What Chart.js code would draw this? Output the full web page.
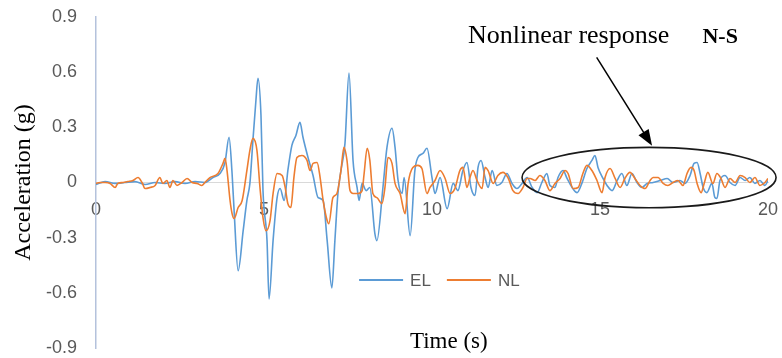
<!DOCTYPE html>
<html>
<head>
<meta charset="utf-8">
<script src="https://cdn.jsdelivr.net/npm/chart.js@4.4.1/dist/chart.umd.min.js"></script>
<style>
  html, body { margin: 0; padding: 0; background: #fff; }
  #wrap { width: 782px; height: 358px; }
</style>
</head>
<body>
<div id="wrap"><canvas id="accChart"></canvas></div>
<script>
// values (time in s, acceleration in g)
const elTime = [
  0, 0.27, 0.57, 0.86, 1.16, 1.46, 1.76, 2.05, 2.35, 2.65,
  2.95, 3.24, 3.48, 3.69, 3.84, 3.96, 4.05, 4.11, 4.23, 4.38,
  4.49, 4.58, 4.67, 4.76, 4.82, 4.91, 4.97, 5.09, 5.15, 5.27,
  5.39, 5.48, 5.60, 5.71, 5.83, 5.95, 6.07, 6.16, 6.31, 6.46,
  6.61, 6.76, 6.88, 7.02, 7.11, 7.20, 7.29, 7.41, 7.53, 7.65,
  7.77, 7.83, 7.92, 8.04, 8.15, 8.30, 8.36, 8.54, 8.66, 8.81,
  8.90, 8.99, 9.11, 9.17, 9.35, 9.49, 9.58, 9.73, 9.85, 10.00,
  10.09, 10.24, 10.45, 10.63, 10.77, 10.92, 11.04, 11.16, 11.28, 11.37,
  11.46, 11.58, 11.67, 11.79, 11.93, 12.08, 12.23, 12.38, 12.53, 12.68,
  12.83, 12.98, 13.13, 13.27, 13.42, 13.51, 13.66, 13.75, 13.90, 14.02,
  14.17, 14.32, 14.46, 14.61, 14.76, 14.85, 14.94, 15.09, 15.21, 15.36,
  15.51, 15.65, 15.80, 15.95, 16.10, 16.25, 16.40, 16.58, 16.79, 17.00,
  17.17, 17.38, 17.53, 17.68, 17.80, 17.89, 17.98, 18.07, 18.18, 18.33,
  18.42, 18.48, 18.57, 18.72, 18.87, 19.02, 19.17, 19.32, 19.46, 19.61,
  19.76, 19.91, 20.00
];
const elAccel = [
  -0.011, 0.005, -0.005, 0, 0.005, -0.011, 0, -0.005, 0.005, -0.005,
  0.005, 0, 0.027, 0.049, 0.109, 0.246, 0.049, -0.153, -0.480, -0.262,
  -0.098, -0.005, 0.229, 0.447, 0.567, 0.366, -0.044, -0.316, -0.633, -0.316,
  -0.082, -0.033, -0.098, 0.065, 0.202, 0.256, 0.327, 0.246, 0.136, 0.038,
  -0.082, -0.098, -0.316, -0.573, -0.316, -0.060, 0.065, 0.213, 0.595, 0.120,
  -0.027, -0.098, -0.005, -0.044, -0.027, -0.278, -0.316, -0.027, 0.191, 0.295,
  0.191, 0.011, -0.060, 0.027, -0.289, 0.065, 0.136, 0.158, 0.186, 0.027,
  -0.060, 0.027, -0.142, -0.005, -0.044, 0.065, 0.109, -0.027, -0.071, 0.082,
  0.120, 0.027, -0.027, 0.065, -0.016, 0, 0.049, -0.005, -0.033, -0.005,
  0.027, -0.027, -0.055, 0, 0.049, -0.016, -0.027, 0.027, 0.065, 0.022,
  -0.027, -0.055, -0.005, 0.076, 0.120, 0.147, 0.082, 0.022, -0.016, -0.044,
  0.011, 0.049, -0.016, 0.049, 0, -0.027, -0.005, 0, 0.011, 0.022,
  0, 0.011, -0.005, 0.038, 0.104, 0.109, 0.049, -0.027, -0.055, -0.005,
  -0.082, -0.087, 0.011, 0.038, 0, -0.016, 0.027, 0.011, 0.027, -0.005,
  0.011, -0.016, 0.011
];
const nlTime = [
  0, 0.12, 0.27, 0.42, 0.57, 0.65, 0.80, 0.95, 1.10, 1.25,
  1.37, 1.46, 1.61, 1.76, 1.90, 1.99, 2.11, 2.20, 2.29, 2.41,
  2.56, 2.71, 2.86, 3.01, 3.15, 3.24, 3.39, 3.63, 3.78, 3.84,
  3.90, 3.99, 4.05, 4.11, 4.23, 4.35, 4.49, 4.58, 4.67, 4.79,
  4.88, 4.97, 5.06, 5.18, 5.27, 5.39, 5.54, 5.63, 5.71, 5.80,
  5.89, 5.98, 6.13, 6.28, 6.37, 6.46, 6.58, 6.67, 6.76, 6.88,
  6.93, 7.05, 7.17, 7.29, 7.38, 7.47, 7.56, 7.65, 7.80, 7.92,
  7.98, 8.07, 8.15, 8.24, 8.36, 8.51, 8.60, 8.69, 8.81, 8.90,
  9.05, 9.20, 9.29, 9.43, 9.58, 9.70, 9.85, 9.94, 10.09, 10.24,
  10.39, 10.54, 10.68, 10.83, 10.92, 11.04, 11.13, 11.22, 11.34, 11.49,
  11.58, 11.67, 11.82, 11.96, 12.11, 12.26, 12.41, 12.56, 12.71, 12.83,
  12.92, 13.07, 13.21, 13.36, 13.51, 13.66, 13.81, 13.96, 14.05, 14.20,
  14.35, 14.49, 14.61, 14.76, 14.91, 15.06, 15.15, 15.30, 15.45, 15.60,
  15.74, 15.89, 16.04, 16.19, 16.34, 16.49, 16.58, 16.73, 16.88, 17.02,
  17.17, 17.32, 17.47, 17.59, 17.71, 17.80, 17.89, 18.01, 18.10, 18.21,
  18.36, 18.48, 18.60, 18.72, 18.87, 19.02, 19.17, 19.32, 19.46, 19.61,
  19.76, 19.91, 20.00
];
const nlAccel = [
  -0.005, 0, 0, -0.005, -0.027, -0.005, 0, 0.005, 0.011, 0.027,
  0, -0.033, -0.027, -0.016, 0.027, -0.005, 0.011, -0.027, 0.011, -0.016,
  0, 0.022, 0, -0.005, -0.016, 0, 0.027, 0.049, 0.104, 0.131,
  0.065, -0.098, -0.169, -0.196, -0.136, -0.098, 0.065, 0.175, 0.240, 0.175,
  -0.027, -0.191, -0.262, -0.207, -0.060, 0.049, 0.038, -0.027, -0.115, -0.136,
  0.027, 0.136, 0.147, 0.120, 0.065, 0.104, 0.109, 0.027, -0.098, -0.207,
  -0.224, -0.082, -0.060, 0.065, 0.191, 0.120, -0.044, -0.060, -0.060, -0.044,
  0.049, 0.186, 0.120, -0.060, -0.082, -0.115, -0.027, 0.136, 0.104, -0.005,
  -0.060, -0.169, -0.005, 0.082, 0.093, 0.076, -0.060, -0.027, 0.011, 0.065,
  0.022, -0.060, -0.033, 0.065, 0.082, -0.027, 0.027, 0.065, 0.011, -0.033,
  0.082, 0.065, -0.005, 0.038, 0.055, 0.027, -0.044, -0.060, -0.027, 0.022,
  0.022, 0.011, 0.038, 0.011, -0.044, -0.005, 0.022, 0.065, 0.049, -0.033,
  -0.027, 0.049, 0.093, 0.065, 0.011, -0.055, 0.027, 0.076, 0.022, -0.027,
  0.022, 0.055, 0.022, -0.016, -0.033, 0.011, 0.027, 0.027, -0.005, -0.016,
  0, 0.011, -0.016, 0.049, 0.082, 0.065, -0.005, -0.055, -0.005, 0.055,
  -0.005, 0.049, 0.022, -0.027, 0.022, 0, 0.038, 0.027, 0, 0.027,
  -0.016, 0, 0.022
];
const xTicks = [0, 5, 10, 15, 20];
const yTicks = [-0.9, -0.6, -0.3, 0, 0.3, 0.6, 0.9];

const toPoints = (ts, vs) => ts.map((t, i) => ({ x: t, y: vs[i] }));

// legend, axis title and the hand-drawn annotation
const overlay = {
  id: "overlay",
  afterDraw(chart) {
    const { ctx } = chart;
    const xs = chart.scales.x, ys = chart.scales.y;
    const px = v => xs.getPixelForValue(v);
    const py = v => ys.getPixelForValue(v);
    ctx.save();

    // legend inside the plot
    ctx.font = '17px "Liberation Sans"';
    ctx.textBaseline = "middle";
    ctx.textAlign = "left";
    let lx = px(7.83);
    const ly = py(-0.53);
    chart.data.datasets.forEach(ds => {
      ctx.strokeStyle = ds.borderColor;
      ctx.lineWidth = 2;
      ctx.beginPath();
      ctx.moveTo(lx, ly);
      ctx.lineTo(lx + 44, ly);
      ctx.stroke();
      ctx.fillStyle = "#595959";
      ctx.fillText(ds.label, lx + 51, ly + 1);
      lx += 51 + ctx.measureText(ds.label).width + 16;
    });

    // x axis title
    ctx.fillStyle = "#000";
    ctx.font = '23px "Liberation Serif"';
    ctx.textAlign = "center";
    ctx.fillText("Time (s)", px(10.5), py(-0.865));

    // annotation text
    ctx.textAlign = "left";
    ctx.textBaseline = "alphabetic";
    ctx.font = '26px "Liberation Serif"';
    ctx.fillText("Nonlinear response", px(11.07), py(0.76));
    ctx.font = 'bold 22px "Liberation Serif"';
    ctx.fillText("N-S", px(18.05), py(0.76));

    // arrow
    const x1 = px(14.9), y1 = py(0.68), x2 = px(16.55), y2 = py(0.2);
    const ang = Math.atan2(y2 - y1, x2 - x1);
    ctx.strokeStyle = "#000";
    ctx.fillStyle = "#000";
    ctx.lineWidth = 1.5;
    ctx.beginPath();
    ctx.moveTo(x1, y1);
    ctx.lineTo(x2 - 12 * Math.cos(ang), y2 - 12 * Math.sin(ang));
    ctx.stroke();
    ctx.beginPath();
    ctx.moveTo(x2, y2);
    ctx.lineTo(x2 - 16 * Math.cos(ang) + 6 * Math.sin(ang), y2 - 16 * Math.sin(ang) - 6 * Math.cos(ang));
    ctx.lineTo(x2 - 16 * Math.cos(ang) - 6 * Math.sin(ang), y2 - 16 * Math.sin(ang) + 6 * Math.cos(ang));
    ctx.closePath();
    ctx.fill();

    // ellipse round the late part of the record
    const cx = px(16.46), cy = py(0.027);
    const rx = px(16.46 + 3.78) - cx, ry = cy - py(0.027 + 0.164);
    ctx.lineWidth = 1.6;
    ctx.strokeStyle = "#1a1a1a";
    ctx.beginPath();
    ctx.ellipse(cx, cy, rx, ry, 0, 0, Math.PI * 2);
    ctx.stroke();

    ctx.restore();
  }
};

new Chart(document.getElementById("accChart"), {
  type: "line",
  data: {
    datasets: [
      {
        label: "EL",
        data: toPoints(elTime, elAccel),
        borderColor: "#5B9BD5",
        borderWidth: 1.6,
        pointRadius: 0,
        cubicInterpolationMode: "monotone",
        order: 2
      },
      {
        label: "NL",
        data: toPoints(nlTime, nlAccel),
        borderColor: "#ED7D31",
        borderWidth: 1.6,
        pointRadius: 0,
        cubicInterpolationMode: "monotone",
        order: 1
      }
    ]
  },
  options: {
    responsive: true,
    maintainAspectRatio: false,
    animation: false,
    events: [],
    layout: { padding: { top: 17, bottom: 10, right: 14, left: 0 } },
    plugins: {
      legend: { display: false },
      tooltip: { enabled: false }
    },
    scales: {
      x: {
        type: "linear",
        position: { y: 0 },
        min: 0,
        max: 20,
        afterBuildTicks: s => { s.ticks = xTicks.map(v => ({ value: v })); },
        afterFit: s => {
          s.height = 0;
          s.paddingLeft = s.paddingRight = s.paddingTop = s.paddingBottom = 0;
        },
        grid: { display: false, drawTicks: false },
        border: { display: true, color: "#D9D9D9", width: 1 },
        ticks: {
          padding: 17,
          color: "#595959",
          font: { family: "Liberation Sans", size: 18 },
          maxRotation: 0
        }
      },
      y: {
        min: -0.9,
        max: 0.9,
        afterBuildTicks: s => { s.ticks = yTicks.map(v => ({ value: v })); },
        afterFit: s => {
          s.width = 96;
          s.paddingLeft = s.paddingRight = s.paddingTop = s.paddingBottom = 0;
        },
        grid: { display: false, drawTicks: false },
        border: { display: true, color: "#B4C2DC", width: 1.5 },
        ticks: {
          padding: 19,
          color: "#595959",
          font: { family: "Liberation Sans", size: 18 },
          callback: v => String(Math.round(v * 10) / 10)
        },
        title: {
          display: true,
          text: "Acceleration (g)",
          color: "#000",
          font: { family: "Liberation Serif", size: 24 },
          padding: { top: 9, bottom: 0 }
        }
      }
    }
  },
  plugins: [overlay]
});
</script>
</body>
</html>
